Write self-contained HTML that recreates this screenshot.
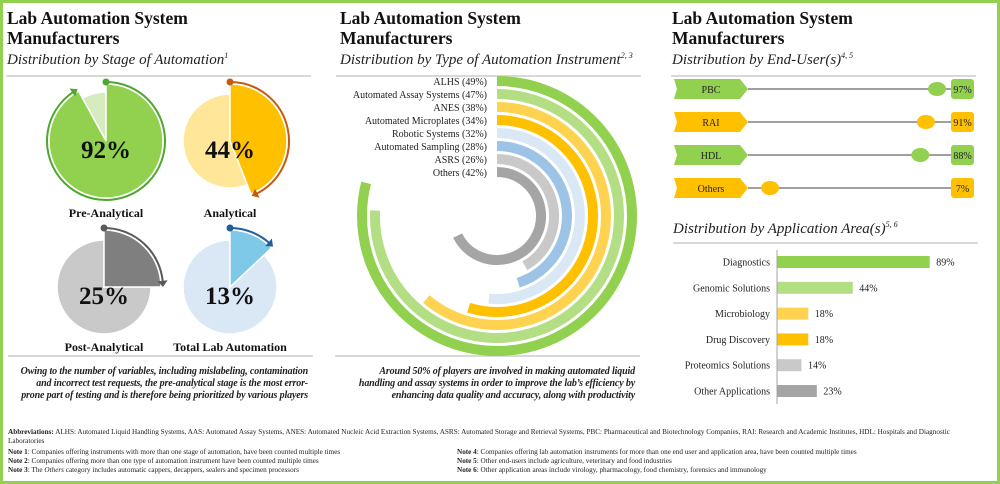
<!DOCTYPE html>
<html><head><meta charset="utf-8"><style>
body{margin:0;width:1000px;height:484px;overflow:hidden;background:#fff;font-family:"Liberation Serif",serif;}
#frame{position:absolute;left:0;top:0;width:994px;height:478px;border:3px solid #92d050;}
.t{position:absolute;font-weight:bold;font-size:17.5px;line-height:20px;color:#111;}
.s{position:absolute;font-style:italic;font-size:15px;color:#222;}
.hl{position:absolute;height:2px;background:#d9d9d9;}
.note{position:absolute;font-style:italic;font-weight:bold;font-size:10px;line-height:12px;text-align:right;color:#222;letter-spacing:-0.15px;white-space:nowrap;}
.fn{position:absolute;font-size:7.2px;line-height:9px;color:#222;white-space:nowrap;}
svg{position:absolute;left:0;top:0;}
</style></head><body>
<div id="frame"></div>
<div class="t" style="left:7px;top:8px">Lab Automation System<br>Manufacturers</div>
<div class="s" style="left:7px;top:51px">Distribution by Stage of Automation<sup style="font-size:8px">1</sup></div>
<div class="hl" style="left:6px;top:75px;width:305px"></div>
<div class="t" style="left:340px;top:8px">Lab Automation System<br>Manufacturers</div>
<div class="s" style="left:340px;top:51px">Distribution by Type of Automation Instrument<sup style="font-size:8px">2, 3</sup></div>
<div class="hl" style="left:336px;top:75px;width:305px"></div>
<div class="t" style="left:672px;top:8px">Lab Automation System<br>Manufacturers</div>
<div class="s" style="left:672px;top:51px">Distribution by End-User(s)<sup style="font-size:8px">4, 5</sup></div>
<div class="hl" style="left:671px;top:75px;width:305px"></div>
<div class="s" style="left:673px;top:220px">Distribution by Application Area(s)<sup style="font-size:8px">5, 6</sup></div>
<div class="hl" style="left:673px;top:242px;width:305px"></div>
<div class="hl" style="left:8px;top:355px;width:305px"></div>
<div class="hl" style="left:335px;top:355px;width:305px"></div>
<div class="note" style="left:0px;top:366px;width:308px">Owing to the number of variables, including mislabeling, contamination<br>and incorrect test requests, the pre-analytical stage is the most error-<br>prone part of testing and is therefore being prioritized by various players</div>
<div class="note" style="left:330px;top:366px;width:305px">Around 50% of players are involved in making automated liquid<br>handling and assay systems in order to improve the lab’s efficiency by<br>enhancing data quality and accuracy, along with productivity</div>
<div class="fn" style="left:8px;top:428px;white-space:normal;width:975px"><b>Abbreviations:</b> ALHS: Automated Liquid Handling Systems, AAS: Automated Assay Systems, ANES: Automated Nucleic Acid Extraction Systems, ASRS: Automated Storage and Retrieval Systems, PBC: Pharmaceutical and Biotechnology Companies, RAI: Research and Academic Institutes, HDL: Hospitals and Diagnostic Laboratories</div>
<div class="fn" style="left:8px;top:448px"><b>Note 1</b>: Companies offering instruments with more than one stage of automation, have been counted multiple times</div>
<div class="fn" style="left:8px;top:457px"><b>Note 2</b>: Companies offering more than one type of automation instrument have been counted multiple times</div>
<div class="fn" style="left:8px;top:466px"><b>Note 3</b>: The <i>Others</i> category includes automatic cappers, decappers, sealers and specimen processors</div>
<div class="fn" style="left:457px;top:448px"><b>Note 4</b>: Companies offering lab automation instruments for more than one end user and application area, have been counted multiple times</div>
<div class="fn" style="left:457px;top:457px"><b>Note 5</b>: Other end-users include agriculture, veterinary and food industries</div>
<div class="fn" style="left:457px;top:466px"><b>Note 6</b>: Other application areas include virology, pharmacology, food chemistry, forensics and immunology</div>
<svg id="g" width="1000" height="484"></svg>
<script>
// Stage of automation
const stageNames=["Pre-Analytical","Analytical","Post-Analytical","Total Lab Automation"];
const stageValues=[92,44,25,13];
// Instrument types
const instNames=["ALHS","Automated Assay Systems","ANES","Automated Microplates","Robotic Systems","Automated Sampling","ASRS","Others"];
const instValues=[49,47,38,34,32,28,26,42];
// End users
const userNames=["PBC","RAI","HDL","Others"];
const userValues=[97,91,88,7];
// Application areas
const appNames=["Diagnostics","Genomic Solutions","Microbiology","Drug Discovery","Proteomics Solutions","Other Applications"];
const appValues=[89,44,18,18,14,23];

const NS="http://www.w3.org/2000/svg",svg=document.getElementById('g');
function mk(tag,at,parent){const e=document.createElementNS(NS,tag);for(const k in at)e.setAttribute(k,at[k]);(parent||svg).appendChild(e);return e;}
function pt(cx,cy,r,a){const t=a*Math.PI/180;return [cx+r*Math.sin(t),cy-r*Math.cos(t)];}
function wedge(cx,cy,r,a0,a1){const p0=pt(cx,cy,r,a0),p1=pt(cx,cy,r,a1);const l=(a1-a0)>180?1:0;return `M${cx},${cy}L${p0[0]},${p0[1]}A${r},${r} 0 ${l} 1 ${p1[0]},${p1[1]}Z`;}
function arc(cx,cy,r,a0,a1){const p0=pt(cx,cy,r,a0),p1=pt(cx,cy,r,a1);const l=(a1-a0)>180?1:0;return `M${p0[0]},${p0[1]}A${r},${r} 0 ${l} 1 ${p1[0]},${p1[1]}`;}
function txt(x,y,s,at){const e=mk('text',Object.assign({x:x,y:y,'font-family':'Liberation Serif, serif'},at));e.textContent=s;return e;}

// stage pies
const pieCx=[106,230,104,230],pieCy=[141,141,287,287];
const pieCol=[["#92d050","#d6ecc0","#4ea72e"],["#ffc000","#ffe699","#c55a11"],["#7f7f7f","#c9c9c9","#595959"],["#7ec8e8","#dae8f5","#1f5fa0"]];
const big=[true,false,false,false];
stageValues.forEach((v,i)=>{
  const cx=pieCx[i],cy=pieCy[i],a=v*3.6,c=pieCol[i];
  const rMain=57,rRest=big[i]?49:47;
  const rest=mk('path',{d:wedge(cx,cy,rRest,a,360),fill:c[1],stroke:'#fff','stroke-width':1.5});
  
  
  const w=mk('path',{d:wedge(cx,cy,rMain,0,a),fill:c[0],stroke:'#fff','stroke-width':1.5});
  
  
  const ar=mk('path',{d:arc(cx,cy,rMain+2,0,a-4),fill:'none',stroke:c[2],'stroke-width':2});
  
  
  const s=pt(cx,cy,rMain+2,0);
  mk('circle',{cx:s[0],cy:s[1],r:3.5,fill:c[2]});
  const e=pt(cx,cy,rMain+2,a),e0=pt(cx,cy,rMain+2-5,a-6),e1=pt(cx,cy,rMain+2+5,a-6);
  mk('path',{d:`M${e[0]},${e[1]}L${e0[0]},${e0[1]}L${e1[0]},${e1[1]}Z`,fill:c[2]});
  const t=txt(cx,cy+17,v+'%',{'font-size':25,'font-weight':'bold','text-anchor':'middle',fill:'#111'});
  
  
  const l=txt(cx,i<2?217:351,stageNames[i],{'font-size':12,'font-weight':'bold','text-anchor':'middle',fill:'#111'});
  
  
});

// radial bars
const rcx=497,rcy=216,instCol=["#92d050","#b3de84","#ffd34f","#ffc000","#dae8f5","#9dc3e6","#c9c9c9","#a5a5a5"];
const degPer=5.8;
instValues.forEach((v,i)=>{
  const r=135-i*13;
  const p=mk('path',{d:arc(rcx,rcy,r,0,v*degPer),fill:'none',stroke:instCol[i],'stroke-width':10});
  
  
  const t=txt(487,rcy-r+4,instNames[i]+' ('+v+'%)',{'font-size':10,'text-anchor':'end',fill:'#222'});
  
  
});

// end users
const uCol=["#92d050","#ffc000","#92d050","#ffc000"];
function ux(v){return 757+v*1.856;}
userValues.forEach((v,i)=>{
  const y=89+i*33;
  const ln=mk('line',{x1:748,y1:y,x2:952,y2:y,stroke:'#808080','stroke-width':1.5});
  
  
  const tag=mk('path',{d:`M674,${y-10}L740,${y-10}L748,${y}L740,${y+10}L674,${y+10}L677,${y}Z`,fill:uCol[i]});
  
  
  const t=txt(711,y+4,userNames[i],{'font-size':10,'text-anchor':'middle',fill:'#222'});
  
  
  const d=mk('ellipse',{cx:ux(v),cy:y,rx:9,ry:7,fill:uCol[i]});
  
  
  const b=mk('rect',{x:951,y:y-10,width:23,height:20,rx:3,fill:uCol[i]});
  
  
  const vt=txt(962.5,y+4,v+'%',{'font-size':10,'text-anchor':'middle',fill:'#222'});
  
  
});

// application bars
const aCol=["#92d050","#b3de84","#ffd34f","#ffc000","#c9c9c9","#a5a5a5"];
function ax(v){return 777+v*1.71;}
const axis=mk('line',{x1:777,y1:250,x2:777,y2:404,stroke:'#a6a6a6','stroke-width':1});


appValues.forEach((v,i)=>{
  const y=262+i*25.8;
  const r=mk('rect',{x:777.5,y:y-6,width:ax(v)-777,height:12,fill:aCol[i]});
  
  
  const l=txt(770,y+3.5,appNames[i],{'font-size':10,'text-anchor':'end',fill:'#222'});
  
  
  const vt=txt(ax(v)+7,y+3.5,v+'%',{'font-size':10,fill:'#222'});
  
  
});
</script>
</body></html>
